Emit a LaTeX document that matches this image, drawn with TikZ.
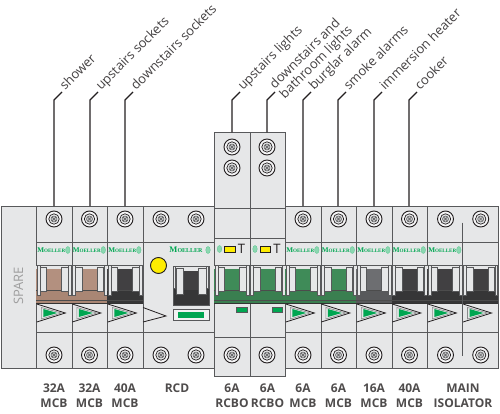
\documentclass[tikz,border=0pt]{standalone}
\usepackage{fontspec}
\usetikzlibrary{shapes.geometric}
\setmainfont{Open Sans}
\newfontfamily\mfont{Liberation Serif}
\definecolor{panel}{HTML}{E6E7E8}
\definecolor{edge}{HTML}{58595B}
\definecolor{ink}{HTML}{231F20}
\definecolor{mgreen}{HTML}{00A651}
\definecolor{brownA}{HTML}{B3907F}
\definecolor{brownB}{HTML}{A98674}
\definecolor{blackA}{HTML}{414042}
\definecolor{blackB}{HTML}{363637}
\definecolor{greyA}{HTML}{6D6E71}
\definecolor{greyB}{HTML}{58595B}
\definecolor{greenA}{HTML}{3F8B58}
\definecolor{greenB}{HTML}{3A7F50}
\tikzset{
  body/.style={fill=panel,draw=edge,line width=1pt},
  rule/.style={draw=edge,line width=1pt},
  tabbox/.style={fill=panel,draw=edge,line width=.7pt},
  lead/.style={draw=ink,line width=1.2pt},
  wlabel/.style={font=\fontsize{13}{14}\selectfont,rotate=45,anchor=base west,text=ink!85,inner sep=0pt},
  clabel/.style={font=\bfseries\fontsize{12}{15}\selectfont,align=center,text=ink!80,inner sep=0pt},
  moe/.style={text=mgreen,inner sep=0pt,font=\mfont\bfseries},
}
\newcommand{\moellertext}{{\fontsize{7.2}{7.2}\selectfont M}{\fontsize{5.1}{5.1}\selectfont OELLER}}
\newcommand{\leaf}[3]{\node[ellipse,inner sep=0pt,minimum width=4.5pt,minimum height=7pt,fill=mgreen!45,draw=mgreen!60,line width=.4pt] (#1) at (#2,#3) {};}
\newcommand{\screw}[3]{%
  \node[circle,draw=ink,fill=panel!40!white,line width=.9pt,minimum size=16pt,inner sep=0pt] (#1) at (#2,#3) {};
  \draw[ink,line width=.7pt,fill=panel] (#2,#3) circle[radius=5.2pt];
  \draw[edge,fill=edge!35,line width=.5pt] (#2,#3) circle[radius=3pt];
  \draw[edge,line width=.4pt] ({#2-2},{#3-2}) -- ({#2+2},{#3+2}) ({#2-2},{#3+2}) -- ({#2+2},{#3-2});
}
\newcommand{\toggle}[3]{%
  \fill[panel] (#1,265) rectangle ({#1+35.5},269);
  \fill[#2] (#1,269) rectangle ({#1+35.5},303);
  \fill[#3] (#1,291) rectangle ({#1+35.5},303);
  \draw[edge,line width=.6pt] (#1,265) -- ({#1+35.5},265);
  \draw[black!70,line width=.4pt] (#1,300.5) -- ({#1+35.5},300.5);
  \draw[black!70,line width=.5pt] (#1,290.5) -- ({#1+35.5},290.5);
  \draw[black!80,line width=.8pt] (#1,303) -- ({#1+35.5},303);
  \draw[tabbox] ({#1+.8},265.5) rectangle ({#1+3.6},295);
  \draw[tabbox] ({#1+32.4},265.5) rectangle ({#1+35.3},295);
  \draw[tabbox] ({#1+4},267) rectangle ({#1+10.5},291);
  \draw[tabbox] ({#1+25.5},267) rectangle ({#1+32},291);
}
\newcommand{\tri}[1]{%
  \draw[ink,line width=.8pt] ({#1+.5},304) -- ({#1+29},313) -- ({#1+.5},322);
  \draw[edge!70,fill=panel,line width=.6pt] ({#1+5},307.5) -- ({#1+25},313) -- ({#1+5},319) -- cycle;
  \fill[mgreen] ({#1+7},309) -- ({#1+21},313) -- ({#1+7},317) -- cycle;
}
\newcommand{\brand}[2]{%
  \node[moe] (#1) at ({#2+15},250) {\moellertext};
  \leaf{#1l}{#2+31.5}{250}
}
\newcommand{\leader}[4]{%
  \coordinate (#1b) at (#2,#3);
  \coordinate (#1k) at (#2,100);
  \coordinate (#1e) at ({#2+8},92);
  \draw[lead] (#1b) -- (#1k) -- (#1e);
  \node[wlabel] (#1) at ({#2+11},91) {#4};
}
\begin{document}
\begin{tikzpicture}[x=1pt,y=-1pt]
\useasboundingbox (0,0) rectangle (500,414);
\draw[body] (1,206) rectangle (498,368);
\foreach \x in {36,72,107,143,321,356,392,427} \draw[rule] (\x,206) -- (\x,368);
\draw[rule] (36,242) -- (214,242);
\draw[rule] (36,332.5) -- (214,332.5);
\draw[rule] (285,242) -- (498,242);
\draw[rule] (285,332.5) -- (498,332.5);
\node[font=\fontsize{13}{13}\selectfont,rotate=90,text=black!38,inner sep=0pt] (spare) at (18.5,286) {SPARE};
\toggle{36.3}{brownA}{brownB}\tri{36.3}\brand{ma}{36.3}
\toggle{71.8}{brownA}{brownB}\tri{71.8}\brand{mb}{71.8}
\toggle{107.3}{blackA}{blackB}\tri{107.3}\brand{mc}{107.3}
\node[circle,fill=yellow!95!orange,draw=ink,line width=.9pt,minimum size=16pt,inner sep=0pt] (rcdlamp) at (158.5,265.5) {};
\node[moe,font=\mfont\bfseries] (mrcd) at (186,250) {\fontsize{8.5}{8.5}\selectfont M\fontsize{6}{6}\selectfont OELLER};
\leaf{mrcdl}{208}{250}
\fill[blackB] (173,266) rectangle (209,305);
\fill[panel] (174,266.5) rectangle (208,271);
\fill[blackA] (175,271) rectangle (207,290);
\draw[edge,line width=.7pt] (173,266) rectangle (209,305);
\draw[tabbox] (173.5,266.5) rectangle (175.5,288);
\draw[tabbox] (206.5,266.5) rectangle (208.5,288);
\draw[tabbox] (176,268) rectangle (183.5,294);
\draw[tabbox] (198.5,268) rectangle (206,294);
\draw[edge,fill=white!50!panel,line width=.9pt] (173,309) rectangle (209,320);
\fill[mgreen] (178,312.3) rectangle (204,317.7);
\draw[ink,line width=.8pt] (143,307.5) -- (166,316) -- (143,322);
\draw[body] (214,132.5) rectangle (285,376.5);
\draw[rule] (250,132.5) -- (250,376.5);
\foreach \y in {208,238,302.5,337} \draw[rule] (214,\y) -- (285,\y);
\toggle{214.3}{greenA}{greenB}
\toggle{249.8}{greenA}{greenB}
\leaf{rla}{219.5}{249}
\leaf{rlb}{255}{249}
\node[draw=ink,fill=yellow!95!orange,line width=.8pt,minimum width=10.5pt,minimum height=6pt,inner sep=0pt] (rya) at (230,249) {};
\node[draw=ink,fill=yellow!95!orange,line width=.8pt,minimum width=10.5pt,minimum height=6pt,inner sep=0pt] (ryb) at (265.5,249) {};
\node[font=\fontsize{13}{13}\selectfont,text=ink,inner sep=0pt] (rta) at (241.5,249) {T};
\node[font=\fontsize{13}{13}\selectfont,text=ink,inner sep=0pt] (rtb) at (277,249) {T};
\node[fill=mgreen,draw=edge,line width=.6pt,minimum width=10.5pt,minimum height=5.5pt,inner sep=0pt] (rga) at (242,310) {};
\node[fill=mgreen,draw=edge,line width=.6pt,minimum width=10.5pt,minimum height=5.5pt,inner sep=0pt] (rgb) at (277.5,310) {};
\toggle{285.3}{greenA}{greenB}\tri{285.3}\brand{md}{285.3}
\toggle{320.8}{greenA}{greenB}\tri{320.8}\brand{me}{320.8}
\toggle{356.3}{greyA}{greyB}\tri{356.3}\brand{mf}{356.3}
\toggle{391.8}{blackA}{blackB}\tri{391.8}\brand{mg}{391.8}
\toggle{427.3}{blackA}{blackB}\tri{427.3}\brand{mh}{427.3}
\toggle{462.5}{blackA}{blackB}\tri{462.5}
\draw[rule] (498,206) -- (498,368);
\draw[edge,line width=.8pt] (462.7,222.5) -- (462.7,355.5);
\foreach \n/\x in {a/54,b/89.5,c/125,r/161,s/196,d/303,e/338.5,f/374,g/409.5,h/445.5,i/480.7}{
  \screw{t\n}{\x}{219}
  \screw{u\n}{\x}{355}
}
\foreach \n/\x in {j/232,k/267}{
  \screw{v\n}{\x}{147}
  \screw{w\n}{\x}{168}
  \screw{u\n}{\x}{355}
}
\leader{la}{54}{206}{shower}
\leader{lb}{90}{206}{upstairs sockets}
\leader{lc}{125}{206}{downstairs sockets}
\leader{ld}{232}{132.5}{upstairs lights}
\leader{lf}{303}{206}{burglar alarm}
\leader{lg}{338}{206}{smoke alarms}
\leader{lh}{374}{206}{immersion heater}
\leader{li}{409}{206}{cooker}
\coordinate (leb) at (267,132.5);
\coordinate (lek) at (267,100);
\coordinate (lee) at (275,92);
\draw[lead] (leb) -- (lek) -- (lee);
\node[wlabel,align=left,anchor=south west] (le) at (287,102) {downstairs and\\bathroom lights};
\node[clabel] (ca) at (54,395.5) {32A\\MCB};
\node[clabel] (cb) at (89.5,395.5) {32A\\MCB};
\node[clabel] (cc) at (125,395.5) {40A\\MCB};
\node[clabel] (cd) at (177,388) {RCD};
\node[clabel] (ce) at (232,395.5) {6A\\RCBO};
\node[clabel] (cf) at (267.5,395.5) {6A\\RCBO};
\node[clabel] (cg) at (303,395.5) {6A\\MCB};
\node[clabel] (ch) at (338.5,395.5) {6A\\MCB};
\node[clabel] (ci) at (374,395.5) {16A\\MCB};
\node[clabel] (cj) at (409.5,395.5) {40A\\MCB};
\node[clabel] (ck) at (463,395.5) {MAIN\\ISOLATOR};
\end{tikzpicture}
\end{document}
